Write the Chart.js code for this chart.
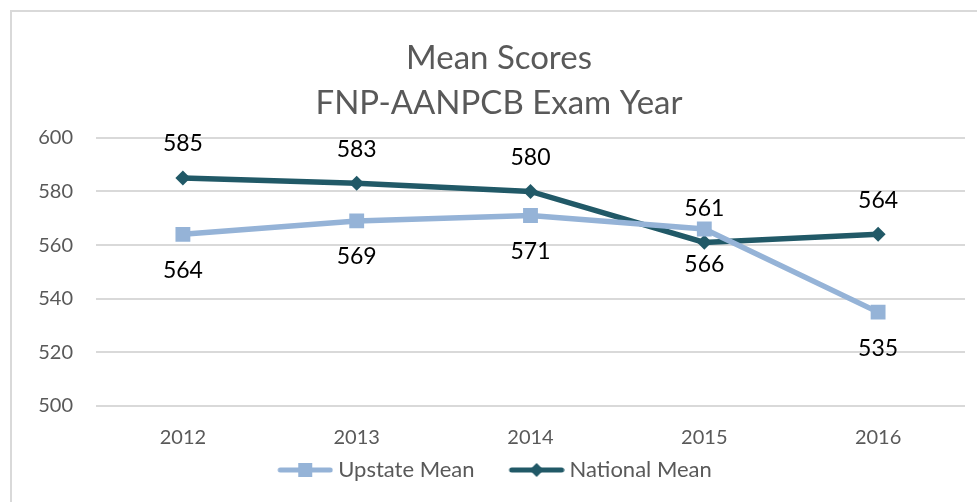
<!DOCTYPE html>
<html>
<head>
<meta charset="utf-8">
<script src="https://cdn.jsdelivr.net/npm/chart.js@4/dist/chart.umd.min.js"></script>
<style>
  html, body { margin: 0; padding: 0; background: #ffffff; overflow: hidden; }
  #wrap { position: relative; width: 977px; height: 502px; overflow: hidden; }
  #frame { position: absolute; left: 10px; top: 10px; width: 1100px; height: 700px;
           border-left: 2px solid #d9d9d9; border-top: 2px solid #d9d9d9; }
  canvas { position: absolute; left: 0; top: 0; }
</style>
</head>
<body>
<div id="wrap">
  <div id="frame"></div>
  <canvas id="c" width="977" height="502"></canvas>
</div>
<script>
const categories = ['2012', '2013', '2014', '2015', '2016'];
const upstateMean = [564, 569, 571, 566, 535];
const nationalMean = [585, 583, 580, 561, 564];
const seriesNames = ['Upstate Mean', 'National Mean'];
const titleLines = ['Mean Scores', 'FNP-AANPCB Exam Year'];
const yTicks = { min: 500, max: 600, step: 20 };

const FONT = "Lato, 'Liberation Sans', sans-serif";
const UP_COLOR = '#95b3d7';
const NAT_COLOR = '#215967';

// Legend icon: line sample with marker, placed at the right of an 86px canvas
function legendIcon(color, shape) {
  const c = document.createElement('canvas');
  c.width = 86; c.height = 16;
  const g = c.getContext('2d');
  const x0 = 30, x1 = 86;
  g.strokeStyle = color; g.lineWidth = 5; g.lineCap = 'round';
  g.beginPath(); g.moveTo(x0 + 3, 8); g.lineTo(x1 - 3, 8); g.stroke();
  g.fillStyle = color;
  const cx = (x0 + x1) / 2;
  if (shape === 'square') {
    g.fillRect(cx - 7, 1, 14, 14);
  } else {
    g.beginPath(); g.moveTo(cx, 1); g.lineTo(cx + 7, 8); g.lineTo(cx, 15); g.lineTo(cx - 7, 8); g.closePath(); g.fill();
  }
  return c;
}

const dataLabelPlugin = {
  id: 'dataLabels',
  afterDatasetsDraw(chart) {
    const ctx = chart.ctx;
    ctx.save();
    ctx.font = "23px " + FONT;
    ctx.fillStyle = '#000000';
    ctx.textAlign = 'center';
    ctx.textBaseline = 'middle';
    chart.data.datasets.forEach((ds, di) => {
      const meta = chart.getDatasetMeta(di);
      meta.data.forEach((pt, i) => {
        const off = ds.labelPos === 'above' ? -34 : 36;
        ctx.fillText(String(ds.data[i]), pt.x, pt.y + off);
      });
    });
    ctx.restore();
  }
};

// Centre the title over the framed area (frame starts near x=33)
const titleShiftPlugin = {
  id: 'titleShift',
  afterLayout(chart) {
    if (chart.titleBlock) { chart.titleBlock.left = 33; }
  }
};

new Chart(document.getElementById('c'), {
  type: 'line',
  data: {
    labels: categories,
    datasets: [
      {
        label: seriesNames[0],
        data: upstateMean,
        borderColor: UP_COLOR,
        backgroundColor: UP_COLOR,
        borderWidth: 5.5,
        pointStyle: 'rect',
        pointRadius: 10.5,
        pointBorderWidth: 0,
        pointHoverRadius: 10.5,
        tension: 0,
        labelPos: 'below',
        legendIcon: legendIcon(UP_COLOR, 'square')
      },
      {
        label: seriesNames[1],
        data: nationalMean,
        borderColor: NAT_COLOR,
        backgroundColor: NAT_COLOR,
        borderWidth: 5.5,
        pointStyle: 'rectRot',
        pointRadius: 7.5,
        pointBorderWidth: 0,
        pointHoverRadius: 7.5,
        tension: 0,
        labelPos: 'above',
        legendIcon: legendIcon(NAT_COLOR, 'diamond')
      }
    ]
  },
  options: {
    responsive: false,
    animation: false,
    events: [],
    layout: { padding: { top: 36, right: 12, bottom: 11, left: 0 } },
    plugins: {
      title: {
        display: true,
        text: titleLines,
        color: '#595959',
        font: { family: FONT, size: 33, weight: 'normal', lineHeight: 1.36 },
        padding: { top: 0, bottom: 12 }
      },
      legend: {
        display: true,
        position: 'bottom',
        labels: {
          color: '#595959',
          font: { family: FONT, size: 22 },
          usePointStyle: true,
          pointStyleWidth: 74,
          padding: 10,
          generateLabels(chart) {
            return chart.data.datasets.map((ds, i) => ({
              text: ds.label,
              pointStyle: ds.legendIcon,
              fillStyle: ds.borderColor,
              strokeStyle: ds.borderColor,
              lineWidth: 0,
              fontColor: '#595959',
              hidden: false,
              datasetIndex: i
            }));
          }
        }
      },
      tooltip: { enabled: false }
    },
    scales: {
      x: {
        offset: true,
        afterFit(scale) { scale.height = 43; },
        grid: { display: false, drawTicks: false },
        border: { display: false },
        ticks: { color: '#595959', font: { family: FONT, size: 20 }, padding: 20 }
      },
      y: {
        min: yTicks.min,
        max: yTicks.max,
        afterFit(scale) { scale.width = 96; },
        grid: { color: '#d9d9d9', lineWidth: 2, drawTicks: false },
        border: { display: false },
        ticks: { stepSize: yTicks.step, color: '#595959', font: { family: FONT, size: 20 }, padding: 23 }
      }
    }
  },
  plugins: [dataLabelPlugin, titleShiftPlugin]
});
</script>
</body>
</html>
